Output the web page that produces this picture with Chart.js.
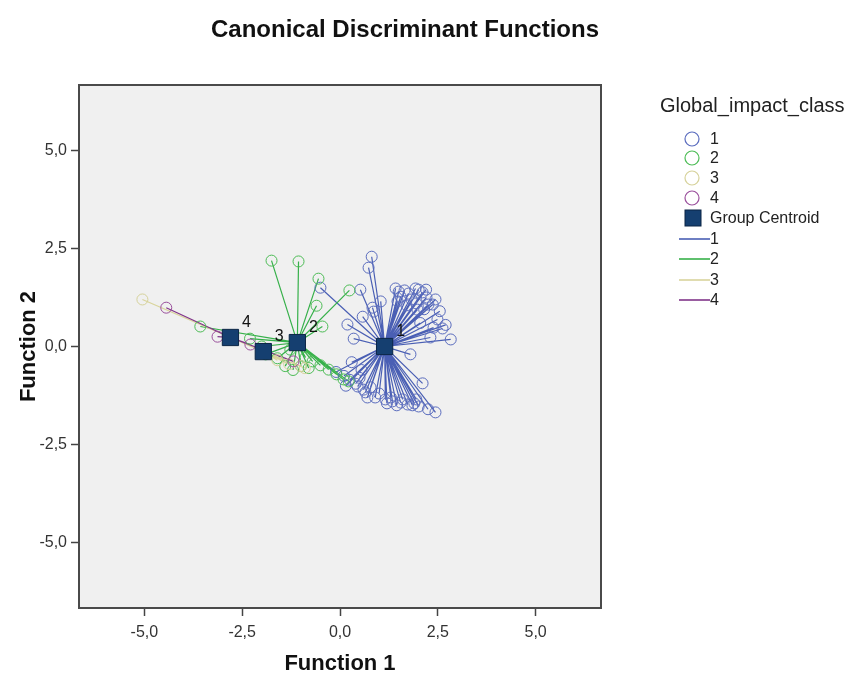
<!DOCTYPE html>
<html>
<head>
<meta charset="utf-8">
<title>Canonical Discriminant Functions</title>
<script src="https://cdn.jsdelivr.net/npm/chart.js@4.4.1/dist/chart.umd.min.js"></script>
<style>
  html, body { margin: 0; padding: 0; background: #fff; }
  #cdf { display: block; }
</style>
</head>
<body>
<canvas id="cdf" width="847" height="675"></canvas>
<script>
// discriminant scores (Function 1, Function 2) per Global_impact_class
const classes = ['1', '2', '3', '4'];
const centroidF1 = [1.14, -1.09, -1.96, -2.80];
const centroidF2 = [0.00, 0.10, -0.13, 0.23];

const class1Scores = [
  [0.81, 2.29], [0.73, 2.01], [-0.50, 1.50], [0.52, 1.45], [1.42, 1.48], [1.93, 1.48],
  [2.01, 1.45], [2.11, 1.38], [1.55, 1.27], [1.47, 1.15], [2.44, 1.20], [2.37, 1.07],
  [1.04, 1.15], [0.83, 0.99], [0.86, 0.89], [1.98, 0.94], [0.58, 0.76], [2.49, 0.69],
  [2.39, 0.48], [2.62, 0.46], [0.19, 0.56], [0.35, 0.20], [2.31, 0.23], [2.83, 0.18],
  [1.80, -0.20], [2.11, -0.94], [1.16, -1.35], [1.34, -1.40], [1.55, -1.43], [1.73, -1.48],
  [1.85, -1.50], [2.01, -1.53], [2.44, -1.68], [0.45, -1.02], [0.60, -1.10], [0.78, -1.04],
  [0.65, -1.17], [0.10, -0.75], [0.25, -0.85], [0.40, -0.95], [0.55, -0.60], [0.30, -0.40],
  [1.83, 1.20], [2.21, 1.25], [1.65, 1.43], [0.15, -1.00], [0.70, -1.30], [2.26, 1.07],
  [-0.10, -0.65], [1.30, -1.30], [1.60, -1.35], [1.90, -1.45], [1.00, -1.20],
  [1.50, 1.40], [1.75, 1.35], [2.20, 1.45], [1.95, 1.10], [2.15, 0.95], [1.70, 1.05],
  [2.05, 0.60], [2.55, 0.90], [1.45, -1.50], [1.95, -1.35], [2.25, -1.60], [1.20, -1.45],
  [0.90, -1.30], [0.50, -0.80], [2.70, 0.55]
];
const class2Scores = [
  [-1.75, 2.19], [-1.06, 2.17], [-0.55, 1.73], [-0.60, 1.04], [-0.45, 0.51], [0.24, 1.43],
  [-3.57, 0.51], [-0.88, -0.28], [-0.70, -0.38], [-0.50, -0.48], [-0.29, -0.59], [-0.09, -0.71],
  [0.09, -0.84], [0.22, -0.89], [-1.27, -0.08], [-2.30, 0.20], [-1.90, -0.20], [-1.60, -0.30],
  [-1.40, -0.50], [-1.20, -0.60], [-1.00, -0.50], [-0.80, -0.55], [-2.00, 0.00]
];
const class3Scores = [
  [-5.05, 1.20], [-1.60, -0.35], [-1.30, -0.45], [-0.90, -0.55], [-1.00, -0.50]
];
const class4Scores = [
  [-4.44, 0.99], [-3.13, 0.25], [-2.29, 0.05], [-1.19, -0.38]
];
const tickValues = [-5, -2.5, 0, 2.5, 5];

const scoresByClass = [class1Scores, class2Scores, class3Scores, class4Scores];
const lineColors = ['#4a5fb4', '#36b04a', '#d9d49c', '#80348a'];
const ringColors = ['#5a6cbe', '#4cbc55', '#d6d29a', '#9a4f9c'];
const FONT = "'Liberation Sans', Arial, sans-serif";

const fmt = v => v.toFixed(1).replace('.', ',');

// spokes: centroid -> case -> centroid -> next case ...
const spokeSets = scoresByClass.map((pts, g) => ({
  type: 'line',
  label: 'line ' + classes[g],
  data: pts.flatMap(p => [{ x: centroidF1[g], y: centroidF2[g] }, { x: p[0], y: p[1] }]),
  borderColor: lineColors[g],
  borderWidth: 1.2,
  pointRadius: 0,
  fill: false,
  tension: 0,
  order: 20 - g
}));

const caseSets = scoresByClass.map((pts, g) => ({
  type: 'scatter',
  label: classes[g],
  data: pts.map(p => ({ x: p[0], y: p[1] })),
  pointStyle: 'circle',
  pointRadius: 5.5,
  pointBorderWidth: 1,
  borderColor: ringColors[g],
  backgroundColor: 'rgba(0,0,0,0)',
  order: 10 - g
}));

const centroidSet = {
  type: 'scatter',
  label: 'Group Centroid',
  data: centroidF1.map((x, i) => ({ x, y: centroidF2[i] })),
  pointStyle: 'rect',
  pointRadius: 11.5,
  pointBorderWidth: 1,
  borderColor: '#0b2545',
  backgroundColor: '#153f70',
  order: 1
};

const plotFrame = {
  id: 'plotFrame',
  beforeDraw(chart) {
    const { ctx, chartArea: a } = chart;
    ctx.save();
    ctx.fillStyle = '#f0f0f0';
    ctx.fillRect(a.left, a.top, a.right - a.left, a.bottom - a.top);
    ctx.restore();
  },
  afterDraw(chart) {
    const { ctx, chartArea: a } = chart;
    ctx.save();
    ctx.strokeStyle = '#4a4a4a';
    ctx.lineWidth = 2;
    ctx.strokeRect(a.left, a.top, a.right - a.left, a.bottom - a.top);
    // chart heading
    ctx.fillStyle = '#111';
    ctx.font = 'bold 24px ' + FONT;
    ctx.textAlign = 'center';
    ctx.textBaseline = 'middle';
    ctx.fillText('Canonical Discriminant Functions', 405, 30);
    ctx.restore();
  }
};

const centroidLabels = {
  id: 'centroidLabels',
  afterDatasetsDraw(chart) {
    const { ctx, scales } = chart;
    ctx.save();
    ctx.fillStyle = '#111';
    ctx.font = '16px ' + FONT;
    ctx.textAlign = 'center';
    ctx.textBaseline = 'middle';
    classes.forEach((c, i) => {
      const px = scales.x.getPixelForValue(centroidF1[i]);
      const py = scales.y.getPixelForValue(centroidF2[i]);
      ctx.fillText(c, px + 16, py - 15);
    });
    ctx.restore();
  }
};

const sideLegend = {
  id: 'sideLegend',
  afterDraw(chart) {
    const ctx = chart.ctx;
    ctx.save();
    ctx.textBaseline = 'middle';
    ctx.textAlign = 'left';
    ctx.fillStyle = '#222';
    ctx.font = '20px ' + FONT;
    ctx.fillText('Global_impact_class', 660, 106);

    ctx.font = '16px ' + FONT;
    const rowY = [139, 158, 178, 198];
    classes.forEach((c, i) => {
      ctx.beginPath();
      ctx.arc(692, rowY[i], 7, 0, Math.PI * 2);
      ctx.strokeStyle = ringColors[i];
      ctx.lineWidth = 1.2;
      ctx.stroke();
      ctx.fillStyle = '#222';
      ctx.fillText(c, 710, rowY[i] + 1);
    });

    ctx.fillStyle = '#153f70';
    ctx.strokeStyle = '#0b2545';
    ctx.lineWidth = 1;
    ctx.fillRect(685, 210, 16, 16);
    ctx.strokeRect(685, 210, 16, 16);
    ctx.fillStyle = '#222';
    ctx.fillText('Group Centroid', 710, 219);

    const lineY = [239, 259, 280, 300];
    classes.forEach((c, i) => {
      ctx.beginPath();
      ctx.moveTo(679, lineY[i]);
      ctx.lineTo(710, lineY[i]);
      ctx.strokeStyle = lineColors[i];
      ctx.lineWidth = 1.6;
      ctx.stroke();
      ctx.fillStyle = '#222';
      ctx.fillText(c, 710, lineY[i] + 1);
    });
    ctx.restore();
  }
};

const axisCommon = (titleText, titlePad, tickPad) => ({
  type: 'linear',
  min: -6.67,
  max: 6.67,
  afterBuildTicks(scale) { scale.ticks = tickValues.map(v => ({ value: v })); },
  grid: { drawOnChartArea: false, drawTicks: true, tickLength: 8, tickColor: '#444', tickWidth: 1.5 },
  border: { display: false },
  ticks: {
    color: '#333',
    padding: tickPad,
    maxRotation: 0,
    font: { family: FONT, size: 16 },
    callback: v => fmt(v)
  },
  title: {
    display: true,
    text: titleText,
    color: '#111',
    font: { family: FONT, size: 22, weight: 'bold' },
    padding: titlePad
  }
});

const xAxis = axisCommon('Function 1', { top: 0, bottom: -2 }, 7);
xAxis.afterFit = s => { s.height = 67; };
const yAxis = axisCommon('Function 2', { top: 16, bottom: 0 }, 4);
yAxis.afterFit = s => { s.width = 79; };

new Chart(document.getElementById('cdf'), {
  type: 'scatter',
  data: { datasets: [...spokeSets, ...caseSets, centroidSet] },
  options: {
    responsive: false,
    animation: false,
    devicePixelRatio: 1,
    layout: { padding: { top: 85, right: 246, bottom: 0, left: 0 } },
    scales: { x: xAxis, y: yAxis },
    plugins: {
      legend: { display: false },
      tooltip: { enabled: false },
      title: { display: false }
    }
  },
  plugins: [plotFrame, centroidLabels, sideLegend]
});
</script>
</body>
</html>
